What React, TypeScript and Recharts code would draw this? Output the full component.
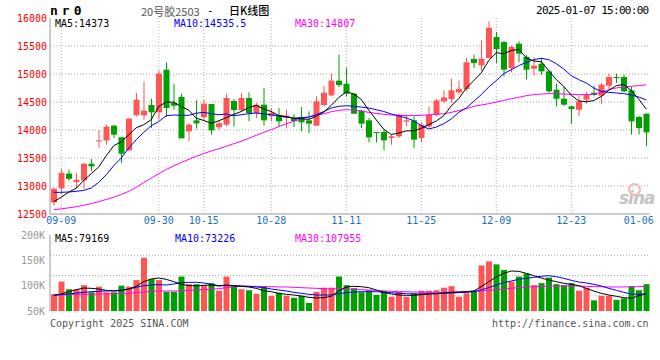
import { ComposedChart, Bar, Line, XAxis, YAxis, CartesianGrid } from "recharts";

// colours / fonts used by the sina daily K chart
const RED = "#ff5555";
const GREEN = "#00a000";
const GRID = "#b0b0b0";
const FRAME = "#999";
const MONO = "'DejaVu Sans Mono', monospace";
const CJK = "'Noto Sans CJK SC', sans-serif";

const DATES = [
  "09-06", "09-09", "09-10", "09-11", "09-12", "09-13", "09-18", "09-19", "09-20", "09-23",
  "09-24", "09-25", "09-26", "09-27", "09-30", "10-08", "10-09", "10-10", "10-11", "10-14",
  "10-15", "10-16", "10-17", "10-18", "10-21", "10-22", "10-23", "10-24", "10-25", "10-28",
  "10-29", "10-30", "10-31", "11-01", "11-04", "11-05", "11-06", "11-07", "11-08", "11-11",
  "11-12", "11-13", "11-14", "11-15", "11-18", "11-19", "11-20", "11-21", "11-22", "11-25",
  "11-26", "11-27", "11-28", "11-29", "12-02", "12-03", "12-04", "12-05", "12-06", "12-09",
  "12-10", "12-11", "12-12", "12-13", "12-16", "12-17", "12-18", "12-19", "12-20", "12-23",
  "12-24", "12-25", "12-26", "12-27", "12-30", "12-31", "01-02", "01-03", "01-06", "01-07",
];

const OPEN = [
  12707, 12960, 13222, 13068, 13100, 13398, 13800, 13815, 14077, 13870,
  13637, 14262, 14262, 14446, 14315, 15077, 14482, 14589, 13976, 14172,
  14232, 14464, 14050, 14095, 14518, 14357, 14571, 14303, 14452, 14244,
  14256, 14214, 14208, 14232, 14172, 14077, 14446, 14619, 14881, 14827,
  14649, 14345, 14172, 13964, 13964, 13857, 13887, 14148, 14172, 13857,
  14065, 14273, 14512, 14553, 14672, 14732, 15268, 15154, 15285, 15660,
  15571, 15107, 15541, 15304, 15095, 15184, 15047, 14720, 14559, 14422,
  14363, 14541, 14665, 14613, 14791, 14946, 14946, 14708, 14232, 14291,
];
const HIGH = [
  12975, 13305, 13295, 13230, 13410, 13485, 14000, 14095, 14095, 13875,
  14215, 14661, 14863, 14560, 15065, 15208, 14827, 14650, 14125, 14530,
  14541, 14464, 14170, 14643, 14553, 14660, 14673, 14482, 14750, 14392,
  14392, 14363, 14280, 14410, 14333, 14601, 14791, 15006, 15345, 15113,
  14660, 14363, 14214, 13964, 14006, 13917, 14291, 14256, 14244, 14137,
  14422, 14559, 14708, 14917, 14881, 15286, 15345, 15601, 15940, 15750,
  15595, 15506, 15583, 15345, 15304, 15286, 15077, 14827, 14768, 14422,
  14601, 14679, 14791, 14839, 15006, 15006, 14988, 14768, 14256, 14291,
];
const LOW = [
  12648, 12850, 13095, 12960, 12950, 13265, 13680, 13740, 13857, 13410,
  13620, 14243, 14184, 14035, 14184, 14232, 14363, 13851, 13798, 14024,
  14172, 13917, 14000, 14065, 14065, 14327, 14155, 14214, 14077, 14155,
  14053, 14035, 14050, 13976, 13940, 14077, 14417, 14601, 14768, 14601,
  14291, 14035, 13780, 13780, 13637, 13738, 13857, 14065, 13673, 13780,
  14035, 14244, 14482, 14482, 14631, 14690, 15107, 15065, 15280, 15196,
  14958, 15030, 15208, 14899, 14970, 14988, 14660, 14422, 14434, 14113,
  14244, 14470, 14601, 14470, 14732, 14839, 14672, 13917, 13917, 13708,
];
const CLOSE = [
  12952, 13235, 13128, 13112, 13398, 13350, 13815, 14060, 13917, 13577,
  14202, 14541, 14345, 14315, 15006, 14393, 14434, 13851, 14095, 14119,
  14470, 13994, 14120, 14571, 14357, 14571, 14303, 14452, 14172, 14303,
  14155, 14256, 14160, 14137, 14113, 14511, 14667, 14881, 14803, 14649,
  14291, 14113, 13869, 13946, 13815, 13887, 14273, 14172, 13827, 14095,
  14273, 14529, 14583, 14708, 14732, 15208, 15196, 15274, 15827, 15446,
  15077, 15482, 15363, 15077, 15149, 15047, 14690, 14559, 14452, 14375,
  14512, 14631, 14625, 14809, 14946, 14928, 14690, 14154, 14035, 13958,
];

const MA5 = [
  12720, 12800, 12890, 12960, 13100, 13220, 13340, 13540, 13720, 13790,
  13915, 14040, 14095, 14185, 14420, 14500, 14497, 14420, 14355, 14210,
  14170, 14120, 14165, 14220, 14280, 14330, 14400, 14440, 14375, 14330,
  14260, 14240, 14205, 14200, 14190, 14245, 14318, 14440, 14580, 14680,
  14645, 14545, 14355, 14180, 14012, 13920, 13945, 13985, 13985, 14030,
  14095, 14160, 14255, 14430, 14560, 14750, 14880, 15020, 15240, 15380,
  15360, 15420, 15440, 15290, 15230, 15220, 15060, 14900, 14780, 14620,
  14520, 14505, 14525, 14600, 14710, 14790, 14815, 14705, 14550, 14373,
];
const MA10 = [
  12887, 12887, 12893, 12905, 12922, 12964, 13065, 13202, 13363, 13500,
  13678, 13827, 13958, 14077, 14150, 14256, 14268, 14262, 14262, 14300,
  14315, 14291, 14273, 14286, 14256, 14273, 14291, 14303, 14286, 14273,
  14250, 14232, 14214, 14220, 14232, 14273, 14330, 14393, 14422, 14434,
  14422, 14410, 14393, 14363, 14330, 14286, 14250, 14215, 14166, 14077,
  14018, 14053, 14113, 14196, 14315, 14393, 14512, 14631, 14768, 14881,
  15006, 15077, 15149, 15208, 15256, 15280, 15256, 15184, 15089, 14970,
  14899, 14839, 14750, 14690, 14672, 14661, 14649, 14625, 14589, 14536,
];
const MA30 = [
  12577, 12592, 12610, 12630, 12655, 12685, 12720, 12760, 12800, 12850,
  12905, 12975, 13060, 13140, 13220, 13295, 13360, 13420, 13475, 13530,
  13580, 13625, 13665, 13708, 13756, 13798, 13851, 13905, 13958, 14006,
  14059, 14113, 14154, 14196, 14232, 14262, 14291, 14327, 14351, 14363,
  14357, 14339, 14315, 14297, 14280, 14268, 14262, 14258, 14258, 14262,
  14270, 14280, 14291, 14315, 14345, 14381, 14422, 14446, 14470, 14500,
  14529, 14559, 14583, 14613, 14631, 14643, 14649, 14649, 14643, 14637,
  14631, 14631, 14643, 14672, 14720, 14750, 14768, 14780, 14792, 14807,
];

// volume, in thousands (K) as the sina axis reads
const VOL = [
  83, 108, 93, 93, 101, 87, 98, 87, 87, 100,
  98, 111, 155, 113, 111, 88, 88, 118, 103, 103,
  101, 105, 90, 118, 100, 93, 91, 84, 99, 80,
  86, 80, 76, 80, 66, 88, 96, 96, 118, 101,
  95, 87, 91, 82, 90, 78, 88, 78, 85, 90,
  90, 91, 96, 99, 78, 85, 90, 140, 148, 142,
  131, 108, 118, 124, 101, 105, 116, 103, 101, 105,
  90, 96, 71, 80, 80, 72, 75, 99, 91, 103,
];
const VMA5 = [
  80.3, 83.6, 88.1, 92.1, 95.4, 94.7, 93.4, 90.8, 89.5, 90.1,
  93.4, 98.7, 107.9, 113.2, 115.1, 112.5, 107.9, 102.6, 100.0, 99.4,
  100.7, 101.3, 99.4, 101.3, 100.0, 98.7, 97.4, 94.7, 90.1, 88.1,
  84.9, 82.9, 81.6, 79.6, 77.0, 75.7, 76.3, 79.0, 89.5, 97.4,
  98.7, 98.0, 96.1, 91.4, 86.8, 83.6, 81.6, 80.9, 80.9, 82.2,
  83.6, 84.2, 85.5, 86.8, 87.5, 88.1, 89.5, 98.0, 107.9, 117.1,
  124.3, 128.9, 128.3, 124.3, 119.7, 115.1, 111.2, 107.9, 104.6, 102.6,
  100.0, 94.7, 89.5, 84.9, 81.6, 79.0, 76.3, 75.0, 80.3, 83.6,
];
const VMA10 = [
  81.6, 82.2, 83.6, 85.5, 86.8, 88.1, 88.8, 89.5, 90.1, 91.4,
  93.4, 96.7, 100.0, 101.3, 102.0, 101.3, 103.3, 105.9, 106.6, 106.6,
  105.3, 102.6, 100.0, 100.0, 100.0, 99.4, 98.7, 97.4, 96.1, 93.4,
  91.4, 89.5, 86.8, 84.9, 82.9, 81.6, 81.6, 81.6, 84.2, 86.2,
  87.5, 88.1, 88.1, 88.1, 86.8, 86.2, 84.9, 84.2, 83.6, 83.6,
  84.2, 84.2, 84.9, 85.5, 86.2, 86.8, 88.1, 91.4, 96.1, 101.3,
  105.9, 109.2, 112.5, 114.5, 116.4, 118.4, 119.7, 117.8, 114.5, 110.5,
  107.2, 105.3, 102.6, 99.4, 94.7, 90.8, 86.8, 83.6, 82.9, 83.6,
];
const VMA30 = [
  81.6, 82.2, 82.2, 82.9, 82.9, 82.9, 83.6, 83.6, 84.2, 84.2,
  84.9, 86.2, 87.5, 88.8, 89.5, 89.5, 89.5, 90.1, 90.8, 91.4,
  92.1, 92.8, 94.1, 96.1, 98.0, 98.7, 98.7, 98.7, 98.0, 98.0,
  97.4, 97.4, 96.7, 96.1, 95.4, 94.7, 94.1, 93.4, 94.1, 93.4,
  92.8, 92.1, 91.4, 90.8, 89.5, 88.8, 88.1, 88.1, 87.5, 87.5,
  86.8, 86.8, 86.8, 87.5, 87.5, 88.1, 88.8, 89.5, 90.8, 92.1,
  93.4, 94.7, 96.1, 97.4, 98.0, 98.7, 98.7, 99.4, 99.4, 99.4,
  99.4, 98.7, 98.0, 98.0, 97.4, 97.4, 97.4, 98.0, 98.0, 98.7,
];

const PRICE_TICKS = [12500, 13000, 13500, 14000, 14500, 15000, 15500, 16000];
const PRICE_GRID = [13000, 13500, 14000, 14500, 15000, 15500];
const VOL_TICKS = [50, 100, 150, 200];
const VOL_GRID = [80, 120, 160];
const DATE_TICKS = ["09-09", "09-30", "10-15", "10-28", "11-11", "11-25", "12-09", "12-23", "01-06"];
const DATE_GRID = DATE_TICKS.slice(0, -1);

const rows = DATES.map((d, i) => ({
  d,
  o: OPEN[i],
  h: HIGH[i],
  l: LOW[i],
  c: CLOSE[i],
  ma5: MA5[i],
  ma10: MA10[i],
  ma30: MA30[i],
  v: VOL[i],
  vma5: VMA5[i],
  vma10: VMA10[i],
  vma30: VMA30[i],
}));

// bar gets the [low, high] range, body is placed inside it by ratio
function Candle(props: any) {
  const { x, y, width, height, payload } = props;
  const { o, h, l, c } = payload;
  const color = c >= o ? RED : GREEN;
  const top = Math.min(y, y + height);
  const span = Math.abs(height);
  const k = h > l ? span / (h - l) : 0;
  const yO = top + (h - o) * k;
  const yC = top + (h - c) * k;
  const bodyTop = Math.min(yO, yC);
  const bodyH = Math.max(Math.abs(yO - yC), 1);
  const cx = x + width / 2;
  return (
    <g>
      <line x1={cx} x2={cx} y1={top} y2={top + span} stroke={color} strokeWidth={1} />
      <rect x={x} y={bodyTop} width={width} height={bodyH} fill={color} />
    </g>
  );
}

function VolBar(props: any) {
  const { x, y, width, height, payload } = props;
  const color = payload.c >= payload.o ? RED : GREEN;
  return <rect x={x} y={y} width={width} height={height} fill={color} />;
}

const txt = (left: number, top: number, color: string, extra: any = {}) => ({
  position: "absolute" as const,
  left,
  top,
  color,
  fontFamily: MONO,
  fontSize: 10,
  lineHeight: "12px",
  whiteSpace: "nowrap" as const,
  ...extra,
});

const axisTick = (fill: string) => ({ fill, fontSize: 10, fontFamily: MONO });

export default function App() {
  return (
    <div style={{ position: "absolute", left: 0, top: 0, width: 660, height: 360, background: "#fff" }}>
      <div style={{ position: "absolute", left: 0, top: 0 }}>
        <ComposedChart width={660} height={230} data={rows} margin={{ top: 18, right: 10, bottom: 0, left: 0 }}>
          <CartesianGrid stroke={GRID} strokeDasharray="1 2" horizontalValues={PRICE_GRID} verticalValues={DATE_GRID} />
          <XAxis
            dataKey="d"
            ticks={DATE_TICKS}
            interval={0}
            height={16}
            tickSize={0}
            tickMargin={3}
            tickLine={false}
            axisLine={{ stroke: FRAME }}
            tick={axisTick("#1a6fc4")}
          />
          <XAxis xAxisId="top" dataKey="d" orientation="top" height={0} tick={false} tickLine={false} axisLine={{ stroke: FRAME }} />
          <YAxis
            domain={[12500, 16000]}
            ticks={PRICE_TICKS}
            interval={0}
            width={50}
            tickSize={0}
            tickMargin={3}
            tickLine={false}
            axisLine={{ stroke: FRAME }}
            tick={axisTick("#f00")}
          />
          <YAxis yAxisId="right" orientation="right" dataKey="h" width={0} tick={false} tickLine={false} axisLine={{ stroke: FRAME, strokeWidth: 2 }} />
          <Bar dataKey={(r: any) => [r.l, r.h]} barSize={6} shape={(p: any) => <Candle {...p} />} isAnimationActive={false} />
          <Line dataKey="ma30" stroke="#ff00ff" strokeWidth={1} dot={false} activeDot={false} isAnimationActive={false} />
          <Line dataKey="ma10" stroke="#0000ff" strokeWidth={1} dot={false} activeDot={false} isAnimationActive={false} />
          <Line dataKey="ma5" stroke="#000" strokeWidth={1} dot={false} activeDot={false} isAnimationActive={false} />
        </ComposedChart>
      </div>

      <div style={{ position: "absolute", left: 0, top: 228 }}>
        <ComposedChart width={660} height={100} data={rows} margin={{ top: 7, right: 10, bottom: 17, left: 0 }}>
          <CartesianGrid stroke={GRID} strokeDasharray="1 2" horizontalValues={VOL_GRID} verticalValues={DATE_GRID} />
          <XAxis dataKey="d" height={0} tick={false} tickLine={false} axisLine={{ stroke: FRAME }} />
          <XAxis xAxisId="top" dataKey="d" orientation="top" height={0} tick={false} tickLine={false} axisLine={{ stroke: FRAME }} />
          <YAxis
            domain={[50, 200]}
            ticks={VOL_TICKS}
            interval={0}
            width={50}
            tickSize={0}
            tickMargin={5}
            tickLine={false}
            axisLine={{ stroke: FRAME }}
            tickFormatter={(v: number) => `${v}K`}
            tick={axisTick("#999")}
          />
          <YAxis yAxisId="right" orientation="right" dataKey="v" width={0} tick={false} tickLine={false} axisLine={{ stroke: FRAME, strokeWidth: 2 }} />
          <Bar dataKey="v" barSize={6} shape={(p: any) => <VolBar {...p} />} isAnimationActive={false} />
          <Line dataKey="vma30" stroke="#ff00ff" strokeWidth={1} dot={false} activeDot={false} isAnimationActive={false} />
          <Line dataKey="vma10" stroke="#0000ff" strokeWidth={1} dot={false} activeDot={false} isAnimationActive={false} />
          <Line dataKey="vma5" stroke="#000" strokeWidth={1} dot={false} activeDot={false} isAnimationActive={false} />
        </ComposedChart>
      </div>

      {/* title row */}
      <div style={txt(50, 4, "#000", { fontSize: 13, fontWeight: "bold", letterSpacing: 4, lineHeight: "14px" })}>nr0</div>
      <div style={txt(141, 4, "#555", { fontFamily: CJK, fontSize: 11, lineHeight: "14px" })}>20号胶2503</div>
      <div style={txt(207, 4, "#000", { fontSize: 11, lineHeight: "14px" })}>-</div>
      <div style={txt(229, 3, "#000", { fontFamily: CJK, fontSize: 11, fontWeight: 500, lineHeight: "14px" })}>日K线图</div>
      <div style={txt(536, 5, "#000", { fontSize: 11, letterSpacing: -0.7 })}>2025-01-07 15:00:00</div>

      {/* moving average readouts */}
      <div style={txt(55, 18, "#000")}>MA5:14373</div>
      <div style={txt(174, 18, "#0000ff")}>MA10:14535.5</div>
      <div style={txt(295, 18, "#ff00ff")}>MA30:14807</div>
      <div style={txt(55, 233, "#000")}>MA5:79169</div>
      <div style={txt(175, 233, "#0000ff")}>MA10:73226</div>
      <div style={txt(295, 233, "#ff00ff")}>MA30:107955</div>

      {/* watermark + footer */}
      <div style={txt(619, 188, "#c4c4c4", { fontFamily: "'DejaVu Sans', sans-serif", fontSize: 17, fontWeight: "bold", fontStyle: "italic", lineHeight: "20px", letterSpacing: -1 })}>sina</div>
      <div style={{ position: "absolute", left: 628, top: 183, width: 9, height: 9, borderRadius: "50%", border: "2px solid #f5b5b5" }} />
      <div style={txt(50, 318, "#555")}>Copyright 2025 SINA.COM</div>
      <div style={txt(492, 318, "#555")}>http://finance.sina.com.cn</div>
    </div>
  );
}
